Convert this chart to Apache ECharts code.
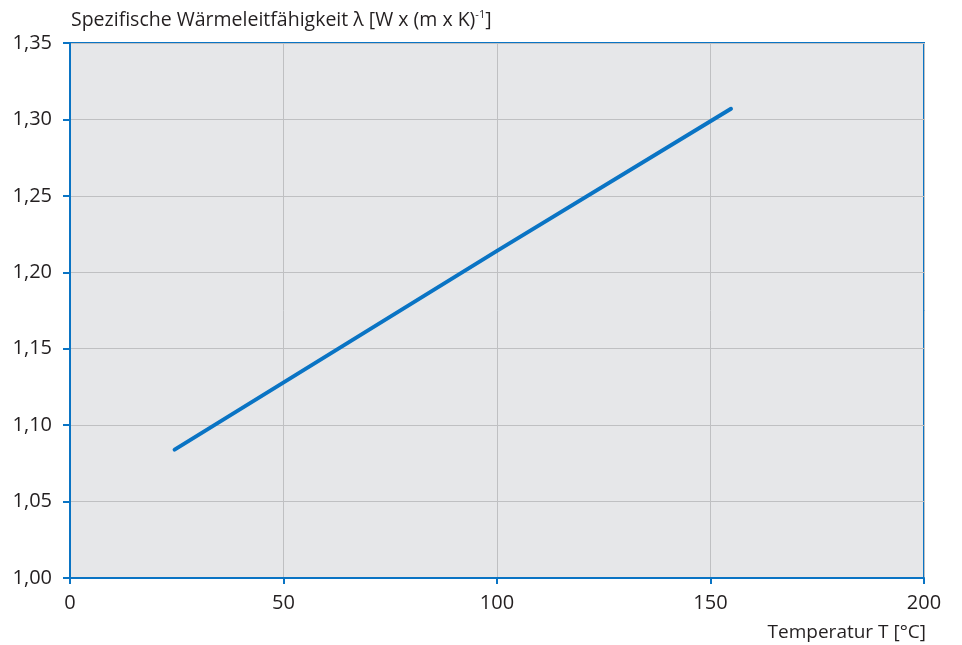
<!DOCTYPE html>
<html>
<head>
<meta charset="utf-8">
<script src="https://cdn.jsdelivr.net/npm/echarts@6/dist/echarts.min.js"></script>
<style>html,body{margin:0;padding:0;background:#fff;}#c{width:962px;height:645px;}</style>
</head>
<body>
<div id="c"></div>
<script>
const temperature = [24.5, 100, 154.8];
const conductivity = [1.084, 1.214, 1.307];
const xTicks = [0, 50, 100, 150, 200];
const yTicks = [1.00, 1.05, 1.10, 1.15, 1.20, 1.25, 1.30, 1.35];

const blue = '#0a74c4';
const font = '"Open Sans", "Noto Sans", sans-serif';
const chart = echarts.init(document.getElementById('c'));
chart.setOption({
  animation: false,
  backgroundColor: '#ffffff',
  title: {
    text: '{a|Spezifische Wärmeleitfähigkeit λ [W x (m x K)}{s|-1}{a|]}',
    left: 66, top: 4,
    textStyle: {
      fontWeight: 'normal',
      rich: {
        a: {fontFamily: font, fontSize: 19.5, fontWeight: 'normal', color: '#231f20'},
        s: {fontFamily: font, fontSize: 11, fontWeight: 'normal', color: '#231f20', verticalAlign: 'top', padding: [0, 0, 12, 0]}
      }
    }
  },
  grid: {
    left: 70, right: 38, top: 43, bottom: 67,
    show: true, backgroundColor: '#e6e7e9', borderColor: blue, borderWidth: 2
  },
  xAxis: {
    type: 'value', min: 0, max: 200, interval: 50,
    name: 'Temperatur T [°C]', nameLocation: 'end',
    nameGap: 0,
    nameTextStyle: {fontFamily: font, fontSize: 19, color: '#231f20', align: 'right', verticalAlign: 'top', padding: [45, -2, 0, 0]},
    axisLine: {show: true, lineStyle: {color: blue, width: 2}},
    axisTick: {show: true, length: 6, lineStyle: {color: blue, width: 2}},
    axisLabel: {fontFamily: font, fontSize: 20, color: '#231f20', margin: 15,
      formatter: v => xTicks.includes(v) ? String(v) : ''},
    splitLine: {show: true, lineStyle: {color: '#bfc0c2', width: 1}}
  },
  yAxis: {
    type: 'value', min: 1.00, max: 1.35, interval: 0.05,
    axisLine: {show: true, lineStyle: {color: blue, width: 2}},
    axisTick: {show: true, length: 7, lineStyle: {color: blue, width: 2}},
    axisLabel: {fontFamily: font, fontSize: 20, color: '#231f20', margin: 18,
      formatter: v => {
        const t = yTicks.find(y => Math.abs(y - v) < 1e-6);
        return t === undefined ? '' : t.toFixed(2).replace('.', ',');
      }},
    splitLine: {show: true, lineStyle: {color: '#bfc0c2', width: 1}}
  },
  series: [{
    type: 'line',
    data: temperature.map((t, i) => [t, conductivity[i]]),
    symbol: 'none',
    lineStyle: {color: blue, width: 4, cap: 'round'}
  }]
});
</script>
</body>
</html>
